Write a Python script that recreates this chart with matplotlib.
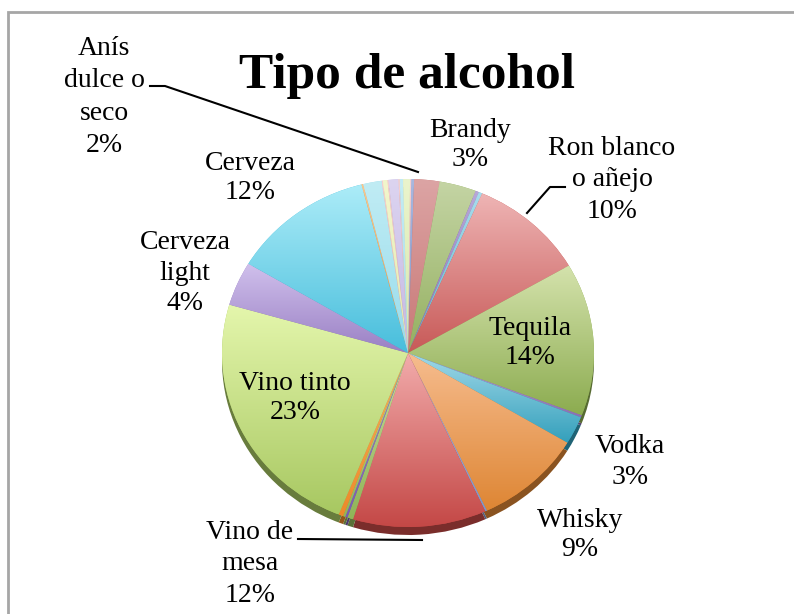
import numpy as np
import matplotlib
matplotlib.use("Agg")
import matplotlib.pyplot as plt
from matplotlib.colors import to_rgb
from matplotlib.patches import Rectangle

# slices clockwise from 12 o'clock; unnamed entries are the tiny categories
names = ["", "Anís dulce o seco", "Brandy", "", "", "Ron blanco o añejo", "Tequila", "",
         "Vodka", "Whisky", "", "Vino de mesa", "", "", "", "", "Vino tinto",
         "Cerveza light", "Cerveza", "", "", "", "", "", "", "", "", "", ""]
values = [0.25, 2.2, 3.2, 0.3, 0.3, 10.1, 14.2, 0.2,
          2.6, 9.4, 0.15, 11.6, 0.5, 0.2, 0.2, 0.4, 23.4,
          4.1, 12.4, 0.15, 1.6, 0.1, 0.4, 0.1, 0.85, 0.1, 0.3, 0.6, 0.1]
# top / bottom colours of each slice gradient
tops = ["#a8b8e0", "#dca4a4", "#c4d4a4", "#b8a8d8", "#a8dcec", "#eeb4b4", "#d4e2ac", "#b8a8d8",
        "#a0d8e8", "#f6bc8e", "#a8b8e0", "#f2acac", "#c8dca0", "#9c84cc", "#c8dca0", "#f8b060",
        "#e4f6ac", "#d0c0ec", "#acecf8", "#f8c890", "#c0ecf4", "#f6d0d0", "#f2f6cc", "#f6d0d0",
        "#dcd4f0", "#f6d0d0", "#c4ecf4", "#eaf4cc", "#f6d0d0"]
bottoms = ["#7f96c8", "#c87876", "#94b060", "#8a70b4", "#62b4cc", "#c85a58", "#8cac50", "#8a70b4",
           "#34a0bc", "#de8634", "#7f96c8", "#c44846", "#90b458", "#7a5cb0", "#90b458", "#ec8a2a",
           "#a8c862", "#9a80c4", "#48bedc", "#ee9a4a", "#98dcec", "#eab8b8", "#e4eab0", "#eab8b8",
           "#c4b8e4", "#eab8b8", "#a4dcec", "#d8e8ac", "#eab8b8"]

W, H = 794, 614
cx, cy, rx, ry = 408, 353, 186, 174
depth = 8

fig = plt.figure(figsize=(W / 100, H / 100), dpi=100)
ax = fig.add_axes([0, 0, 1, 1])
ax.axis("off")


def px(x, y):
    return ((x - cx) / rx, (cy - y) / ry)


def darker(c, f):
    r, g, b = to_rgb(c)
    return (r * f, g * f, b * f)


# side of the tilted pie
ax.pie(values, startangle=89, counterclock=False, radius=1,
       center=(0, -depth / ry), colors=[darker(c, 0.62) for c in bottoms],
       wedgeprops=dict(linewidth=0))

wedges, _ = ax.pie(values, startangle=89, counterclock=False, radius=1,
                   colors=bottoms, wedgeprops=dict(linewidth=0))
ax.set_aspect("auto")

for w, top, bot in zip(wedges, tops, bottoms):
    verts = w.get_patch_transform().transform(w.get_path().vertices)
    x0, x1 = verts[:, 0].min(), verts[:, 0].max()
    y0, y1 = verts[:, 1].min(), verts[:, 1].max()
    t = np.linspace(0, 1, 64)[:, None]
    grad = (1 - t) * np.array(to_rgb(top)) + t * np.array(to_rgb(bot))
    im = ax.imshow(grad[:, None, :], extent=[x0, x1, y0, y1], origin="upper",
                   aspect="auto", interpolation="bilinear", zorder=2)
    im.set_clip_path(w)

# one data unit = rx px horizontally, ry px vertically, origin at the pie centre
ax.set_xlim(-cx / rx, (W - cx) / rx)
ax.set_ylim(-(H - cy) / ry, cy / ry)

total = sum(values)
pct = {n: "%.0f%%" % (v / total * 100) for n, v in zip(names, values) if n}

serif = ["Liberation Serif", "DejaVu Serif"]
fs = 20
labels = [
    ("Anís\ndulce o\nseco\n" + pct["Anís dulce o seco"], 104, 97, 1.38),
    ("Brandy\n" + pct["Brandy"], 470, 145, 1.26),
    ("Ron blanco\no añejo\n" + pct["Ron blanco o añejo"], 612, 180, 1.34),
    ("Cerveza\n" + pct["Cerveza"], 250, 178, 1.26),
    ("Cerveza\nlight\n" + pct["Cerveza light"], 185, 273, 1.28),
    ("Tequila\n" + pct["Tequila"], 530, 343, 1.26),
    ("Vino tinto\n" + pct["Vino tinto"], 295, 398, 1.26),
    ("Vodka\n" + pct["Vodka"], 630, 462, 1.28),
    ("Whisky\n" + pct["Whisky"], 580, 535, 1.26),
    ("Vino de\nmesa\n" + pct["Vino de mesa"], 250, 564, 1.34),
]
for txt, x, y, ls in labels:
    ax.text(*px(x, y), txt, ha="center", va="center", fontsize=fs,
            family=serif, linespacing=ls, zorder=5)

# leader lines
for xs, ys in [([150, 165, 418], [86, 86, 172]),
               ([565, 550, 527], [187, 187, 213]),
               ([298, 422], [539, 540])]:
    pts = [px(x, y) for x, y in zip(xs, ys)]
    ax.plot([p[0] for p in pts], [p[1] for p in pts], color="black", lw=1.5, zorder=4)

ax.text(*px(407, 76), "Tipo de alcohol", ha="center", va="center",
        fontsize=37, fontweight="bold", family=serif, zorder=5)

fig.patches.append(Rectangle((8 / W, -0.05), 1.1, 1.05 - 12 / H, transform=fig.transFigure,
                             fill=False, edgecolor="#a6a6a6", lw=2))

fig.savefig("out.png", dpi=100)
